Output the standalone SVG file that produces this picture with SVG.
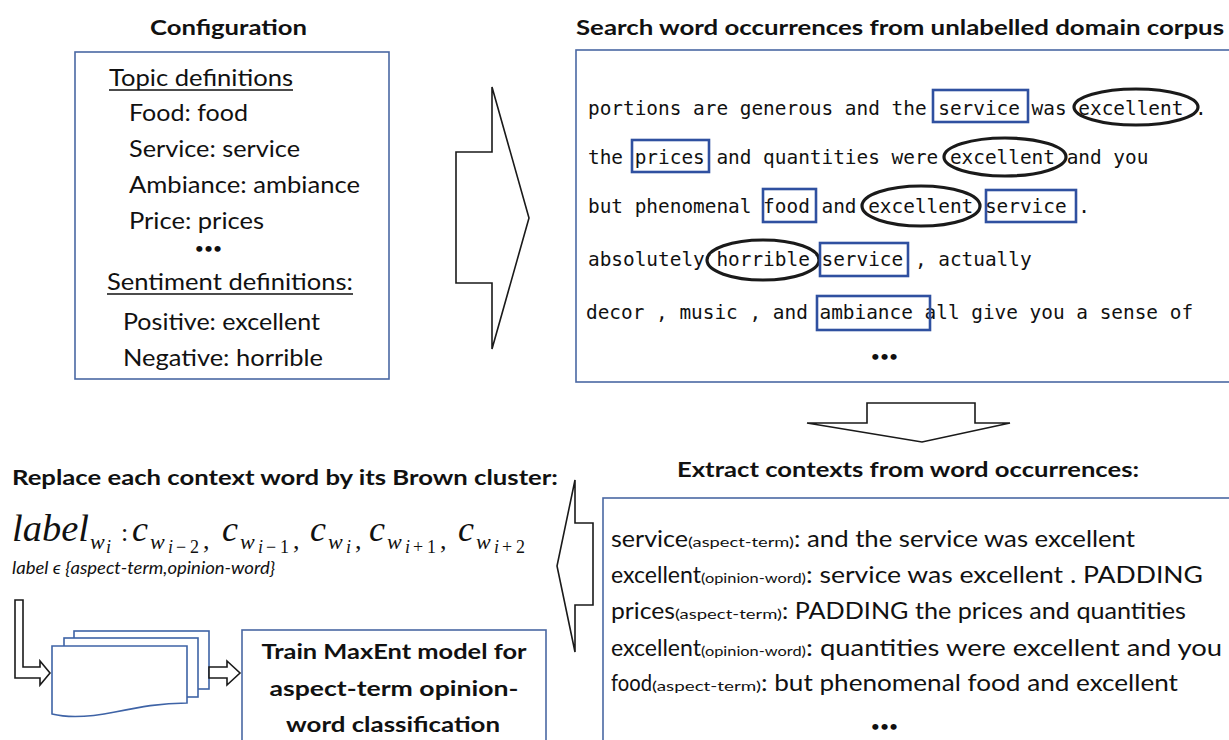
<svg xmlns="http://www.w3.org/2000/svg" width="1229" height="740" viewBox="0 0 1229 740">
<style>
.t{font-family:Lato,"Liberation Sans",sans-serif;fill:#111}
.b{font-weight:bold}
.cfg{font-size:24px}
.ttl{font-size:21px;font-weight:bold}
.ctx{font-size:23px}
.tag{font-size:13.5px}
.dots{font-family:Lato,"Liberation Sans",sans-serif;font-weight:bold;font-size:14px;fill:#111}
.mono{font-family:"DejaVu Sans Mono","Liberation Mono",monospace;font-size:19.4px;fill:#111}
.m{font-family:"Liberation Serif",serif;font-style:italic;fill:#111}
.mr{font-family:"Liberation Serif",serif;fill:#111}
.big{font-size:36px}
.sub{font-size:22px}
.ss{font-size:18px}
.box{fill:#fff;stroke:#4a68a3;stroke-width:1.6}
.hl{fill:none;stroke:#2f50a0;stroke-width:2.6}
.el{fill:none;stroke:#1a1a1a;stroke-width:3.2}
.arr{fill:#fff;stroke:#1a1a1a;stroke-width:1.6;stroke-linejoin:miter}
.sheet{fill:#fff;stroke:#3e63a6;stroke-width:1.6}
</style>

<g id="configuration">
<text class="t ttl" x="150" y="35" textLength="157" lengthAdjust="spacingAndGlyphs">Configuration</text>
<rect class="box" x="75" y="52" width="314" height="327"/>
<text class="t cfg" x="109" y="86" textLength="184" lengthAdjust="spacingAndGlyphs">Topic definitions</text>
<line x1="109" y1="90" x2="293" y2="90" stroke="#111" stroke-width="1.5"/>
<text class="t cfg" x="129" y="121" textLength="119" lengthAdjust="spacingAndGlyphs">Food: food</text>
<text class="t cfg" x="129" y="157" textLength="171" lengthAdjust="spacingAndGlyphs">Service: service</text>
<text class="t cfg" x="129" y="193" textLength="231" lengthAdjust="spacingAndGlyphs">Ambiance: ambiance</text>
<text class="t cfg" x="129" y="229" textLength="135" lengthAdjust="spacingAndGlyphs">Price: prices</text>
<text class="dots" x="209" y="253" text-anchor="middle" letter-spacing="1">•••</text>
<text class="t cfg" x="107" y="290" textLength="246" lengthAdjust="spacingAndGlyphs">Sentiment definitions:</text>
<line x1="107" y1="294" x2="353" y2="294" stroke="#111" stroke-width="1.5"/>
<text class="t cfg" x="123" y="330" textLength="197" lengthAdjust="spacingAndGlyphs">Positive: excellent</text>
<text class="t cfg" x="123" y="366" textLength="200" lengthAdjust="spacingAndGlyphs">Negative: horrible</text>
</g>

<g id="search">
<text class="t ttl" x="576" y="35" textLength="648" lengthAdjust="spacingAndGlyphs">Search word occurrences from unlabelled domain corpus</text>
<rect class="box" x="576" y="50" width="700" height="332"/>
<text class="mono" x="588" y="115" xml:space="preserve">portions are generous and the service was excellent .</text>
<text class="mono" x="588" y="164" xml:space="preserve">the prices and quantities were excellent and you</text>
<text class="mono" x="588" y="213" xml:space="preserve">but phenomenal food and excellent service .</text>
<text class="mono" x="588" y="266" xml:space="preserve">absolutely horrible service , actually</text>
<text class="mono" x="586" y="319" xml:space="preserve">decor , music , and ambiance all give you a sense of</text>
<text class="dots" x="885" y="361" text-anchor="middle" letter-spacing="1">•••</text>
<rect class="hl" x="933" y="90" width="95" height="32"/>
<ellipse class="el" cx="1136" cy="107" rx="62" ry="18"/>
<rect class="hl" x="632" y="140" width="77" height="32"/>
<ellipse class="el" cx="1005" cy="157" rx="61" ry="19"/>
<rect class="hl" x="763" y="189" width="53" height="33"/>
<ellipse class="el" cx="921" cy="206" rx="59" ry="20"/>
<rect class="hl" x="986" y="190" width="90" height="32"/>
<ellipse class="el" cx="763" cy="260" rx="56" ry="20"/>
<rect class="hl" x="820" y="243" width="88" height="33"/>
<rect class="hl" x="817" y="296" width="113" height="34"/>
</g>

<g id="extract">
<text class="t ttl" x="677" y="477" textLength="462" lengthAdjust="spacingAndGlyphs">Extract contexts from word occurrences:</text>
<rect class="box" x="603" y="498" width="700" height="300"/>
<text class="t ctx" x="611" y="547" textLength="77" lengthAdjust="spacingAndGlyphs">service</text>
<text class="t tag" x="688" y="547" textLength="106" lengthAdjust="spacingAndGlyphs">(aspect-term)</text>
<text class="t ctx" x="794" y="547" textLength="341" lengthAdjust="spacingAndGlyphs">: and the service was excellent</text>
<text class="t ctx" x="611" y="583" textLength="90" lengthAdjust="spacingAndGlyphs">excellent</text>
<text class="t tag" x="701" y="583" textLength="105" lengthAdjust="spacingAndGlyphs">(opinion-word)</text>
<text class="t ctx" x="806" y="583" textLength="397" lengthAdjust="spacingAndGlyphs">: service was excellent . PADDING</text>
<text class="t ctx" x="611" y="619" textLength="64" lengthAdjust="spacingAndGlyphs">prices</text>
<text class="t tag" x="675" y="619" textLength="107" lengthAdjust="spacingAndGlyphs">(aspect-term)</text>
<text class="t ctx" x="782" y="619" textLength="404" lengthAdjust="spacingAndGlyphs">: PADDING the prices and quantities</text>
<text class="t ctx" x="611" y="656" textLength="90" lengthAdjust="spacingAndGlyphs">excellent</text>
<text class="t tag" x="701" y="656" textLength="105" lengthAdjust="spacingAndGlyphs">(opinion-word)</text>
<text class="t ctx" x="806" y="656" textLength="416" lengthAdjust="spacingAndGlyphs">: quantities were excellent and you</text>
<text class="t ctx" x="611" y="691" textLength="41" lengthAdjust="spacingAndGlyphs">food</text>
<text class="t tag" x="652" y="691" textLength="109" lengthAdjust="spacingAndGlyphs">(aspect-term)</text>
<text class="t ctx" x="761" y="691" textLength="417" lengthAdjust="spacingAndGlyphs">: but phenomenal food and excellent</text>
<text class="dots" x="885" y="731" text-anchor="middle" letter-spacing="1">•••</text>
</g>

<g id="replace">
<text class="t ttl" x="12" y="485" textLength="546" lengthAdjust="spacingAndGlyphs">Replace each context word by its Brown cluster:</text>
<text class="m" x="12" y="541" font-size="37" textLength="77" lengthAdjust="spacingAndGlyphs">label</text>
<text class="m sub" x="90" y="549">w</text>
<text class="m ss" x="106" y="553">i</text>
<text class="mr" x="121" y="541" font-size="26">:</text>

<text class="m big" x="132" y="541">c</text>
<text class="m sub" x="150" y="549">w</text>
<text class="m ss" x="168" y="553">i</text>
<text class="mr ss" x="176" y="553">−</text>
<text class="mr ss" x="190" y="553">2</text>
<text class="mr" x="203" y="549" font-size="26">,</text>

<text class="m big" x="222" y="541">c</text>
<text class="m sub" x="240" y="549">w</text>
<text class="m ss" x="258" y="553">i</text>
<text class="mr ss" x="266" y="553">−</text>
<text class="mr ss" x="280" y="553">1</text>
<text class="mr" x="293" y="549" font-size="26">,</text>

<text class="m big" x="310" y="541">c</text>
<text class="m sub" x="328" y="549">w</text>
<text class="m ss" x="346" y="553">i</text>
<text class="mr" x="355" y="549" font-size="26">,</text>

<text class="m big" x="369" y="541">c</text>
<text class="m sub" x="387" y="549">w</text>
<text class="m ss" x="405" y="553">i</text>
<text class="mr ss" x="413" y="553">+</text>
<text class="mr ss" x="427" y="553">1</text>
<text class="mr" x="440" y="549" font-size="26">,</text>

<text class="m big" x="458" y="541">c</text>
<text class="m sub" x="476" y="549">w</text>
<text class="m ss" x="494" y="553">i</text>
<text class="mr ss" x="502" y="553">+</text>
<text class="mr ss" x="516" y="553">2</text>
<text class="t" x="12" y="574" font-size="17" font-style="italic" textLength="263" lengthAdjust="spacingAndGlyphs">label ϵ {aspect-term,opinion-word}</text>
</g>

<g id="documents">
<rect class="sheet" x="74" y="631" width="135" height="58"/>
<rect class="sheet" x="64" y="638" width="134" height="59"/>
<path class="sheet" d="M52,646 H187 V703 C160,703 140,707 115,712 C95,716 72,719 52,714 Z"/>
</g>

<g id="train">
<rect class="box" x="242" y="630" width="304" height="130"/>
<text class="t ttl" x="394" y="659" font-size="22" text-anchor="middle" textLength="265" lengthAdjust="spacingAndGlyphs">Train MaxEnt model for</text>
<text class="t ttl" x="394" y="696" font-size="22" text-anchor="middle" textLength="249" lengthAdjust="spacingAndGlyphs">aspect-term opinion-</text>
<text class="t ttl" x="393" y="732" font-size="22" text-anchor="middle" textLength="214" lengthAdjust="spacingAndGlyphs">word classification</text>
</g>

<g id="connectors">
<polygon class="arr" points="456,152 492,152 492,87 529,218 492,349 492,283 456,283"/>
<polygon class="arr" points="867,403 975,403 975,423 1010,423 922,442 807,423 867,423"/>
<polygon class="arr" points="575,480 575,523 593,523 593,605 575,605 575,652 557,566"/>
<polygon class="arr" points="15,600 23,600 23,667 40,667 40,661 50,673 40,685 40,678 15,678"/>
<polygon class="arr" points="209,667 227,667 227,661 240,673 227,685 227,678 209,678"/>
</g>
</svg>
